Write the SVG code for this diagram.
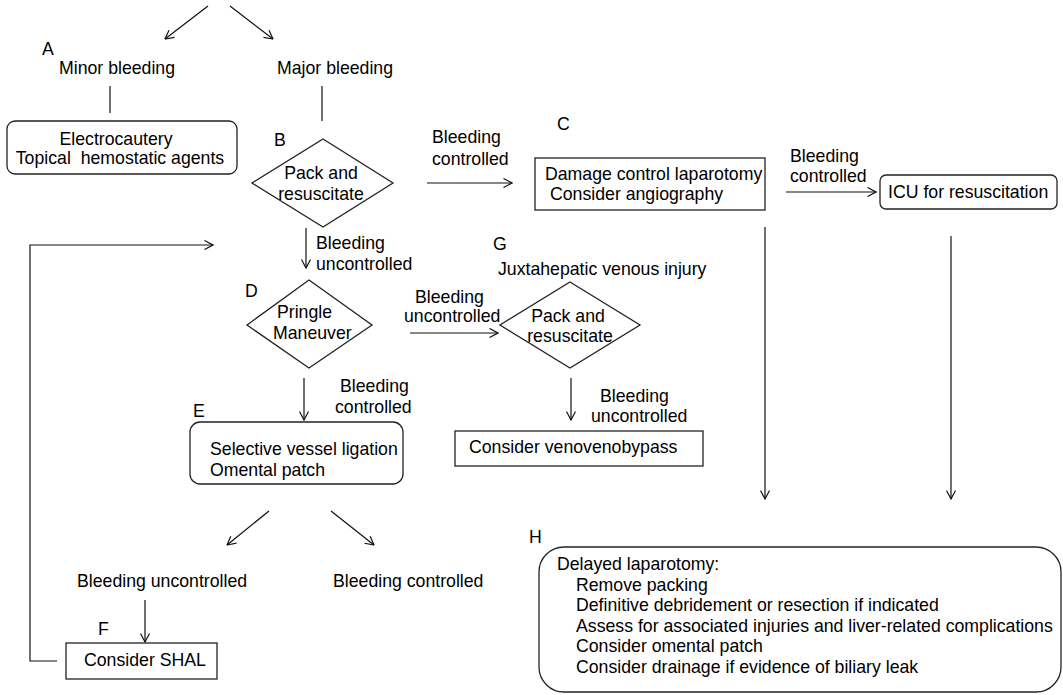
<svg xmlns="http://www.w3.org/2000/svg" width="1063" height="695" viewBox="0 0 1063 695">
<style>
text{font-family:"Liberation Sans",Arial,sans-serif;font-size:17.7px;fill:#000}
.m{text-anchor:middle}
.box{fill:#fff;stroke:#222;stroke-width:1.3}
.ln{fill:none;stroke:#111;stroke-width:1.2}
.ar{fill:none;stroke:#111;stroke-width:1.2;marker-end:url(#ah)}
</style>
<defs>
<marker id="ah" viewBox="0 0 10 10" refX="9.5" refY="5" markerWidth="10" markerHeight="10" markerUnits="userSpaceOnUse" orient="auto">
<path d="M1,0.5 L9.5,5 L1,9.5" fill="none" stroke="#111" stroke-width="1.2"/>
</marker>
</defs>
<rect width="1063" height="695" fill="#fff"/>
<g id="connectors">
<line class="ar" x1="208" y1="6" x2="165" y2="39"/>
<line class="ar" x1="230" y1="6" x2="273" y2="39"/>
<line class="ln" x1="110" y1="86" x2="110" y2="113"/>
<line class="ln" x1="322" y1="86" x2="322" y2="121"/>
<line class="ar" x1="427" y1="183" x2="512" y2="183"/>
<line class="ar" x1="786" y1="192" x2="876" y2="192"/>
<line class="ar" x1="306" y1="228" x2="306" y2="268"/>
<line class="ar" x1="304" y1="378" x2="304" y2="420"/>
<line class="ar" x1="410" y1="333" x2="498" y2="333"/>
<line class="ar" x1="571" y1="378" x2="571" y2="420"/>
<line class="ar" x1="765" y1="227" x2="765" y2="499"/>
<line class="ar" x1="951" y1="236" x2="951" y2="499"/>
<line class="ar" x1="269" y1="511" x2="227" y2="545"/>
<line class="ar" x1="331" y1="511" x2="374" y2="545"/>
<line class="ar" x1="145" y1="600" x2="145" y2="642"/>
<polyline class="ar" points="57,661 30,661 30,245 213,245"/>
<text x="432" y="143">Bleeding</text>
<text x="432" y="165">controlled</text>
<text x="790" y="162">Bleeding</text>
<text x="790" y="182">controlled</text>
<text x="316" y="249">Bleeding</text>
<text x="316" y="270">uncontrolled</text>
<text x="415" y="303">Bleeding</text>
<text x="404" y="322">uncontrolled</text>
<text x="340" y="392">Bleeding</text>
<text x="335" y="413">controlled</text>
<text x="600" y="402">Bleeding</text>
<text x="591" y="422">uncontrolled</text>
</g>
<g id="A">
<text x="42" y="55">A</text>
<text x="59" y="74">Minor bleeding</text>
</g>
<g id="major">
<text x="277" y="74">Major bleeding</text>
</g>
<g id="electro">
<rect class="box" x="7" y="121" width="230" height="53" rx="8"/>
<text class="m" x="116" y="145">Electrocautery</text>
<text class="m" x="120" y="164" xml:space="preserve">Topical  hemostatic agents</text>
</g>
<g id="B">
<text x="274" y="146">B</text>
<polygon class="box" points="323,139 393,183 323,227 252,183"/>
<text class="m" x="321" y="179">Pack and</text>
<text class="m" x="321" y="200">resuscitate</text>
</g>
<g id="C">
<text x="557" y="130">C</text>
<rect class="box" x="535" y="158" width="230" height="52"/>
<text x="545" y="180">Damage control laparotomy</text>
<text x="550" y="200">Consider angiography</text>
</g>
<g id="ICU">
<rect class="box" x="880" y="175" width="177" height="34" rx="6"/>
<text x="888" y="198">ICU for resuscitation</text>
</g>
<g id="D">
<text x="245" y="297">D</text>
<polygon class="box" points="309,280 372,325 309,368 247,325"/>
<text x="277" y="318">Pringle</text>
<text x="273" y="339">Maneuver</text>
</g>
<g id="G">
<text x="493" y="250">G</text>
<text x="498" y="275">Juxtahepatic venous injury</text>
<polygon class="box" points="570,282 640,325 570,368 500,325"/>
<text class="m" x="568" y="322">Pack and</text>
<text class="m" x="570" y="342">resuscitate</text>
</g>
<g id="E">
<text x="193" y="417">E</text>
<rect class="box" x="190" y="422" width="213" height="62" rx="10"/>
<text x="210" y="455">Selective vessel ligation</text>
<text x="210" y="476">Omental patch</text>
</g>
<g id="bypass">
<rect class="box" x="455" y="431" width="248" height="35"/>
<text x="469" y="453">Consider venovenobypass</text>
</g>
<g id="outcomes">
<text x="77" y="587">Bleeding uncontrolled</text>
<text x="333" y="587">Bleeding controlled</text>
</g>
<g id="F">
<text x="98" y="635">F</text>
<rect class="box" x="66" y="643" width="151" height="36"/>
<text x="84" y="666">Consider SHAL</text>
</g>
<g id="H">
<text x="529" y="543">H</text>
<rect class="box" x="539" y="547" width="522" height="145" rx="25"/>
<text x="557" y="570">Delayed laparotomy:</text>
<text x="576" y="590.5">Remove packing</text>
<text x="576" y="611">Definitive debridement or resection if indicated</text>
<text x="576" y="631.5">Assess for associated injuries and liver-related complications</text>
<text x="576" y="652">Consider omental patch</text>
<text x="576" y="672.5">Consider drainage if evidence of biliary leak</text>
</g>
</svg>
